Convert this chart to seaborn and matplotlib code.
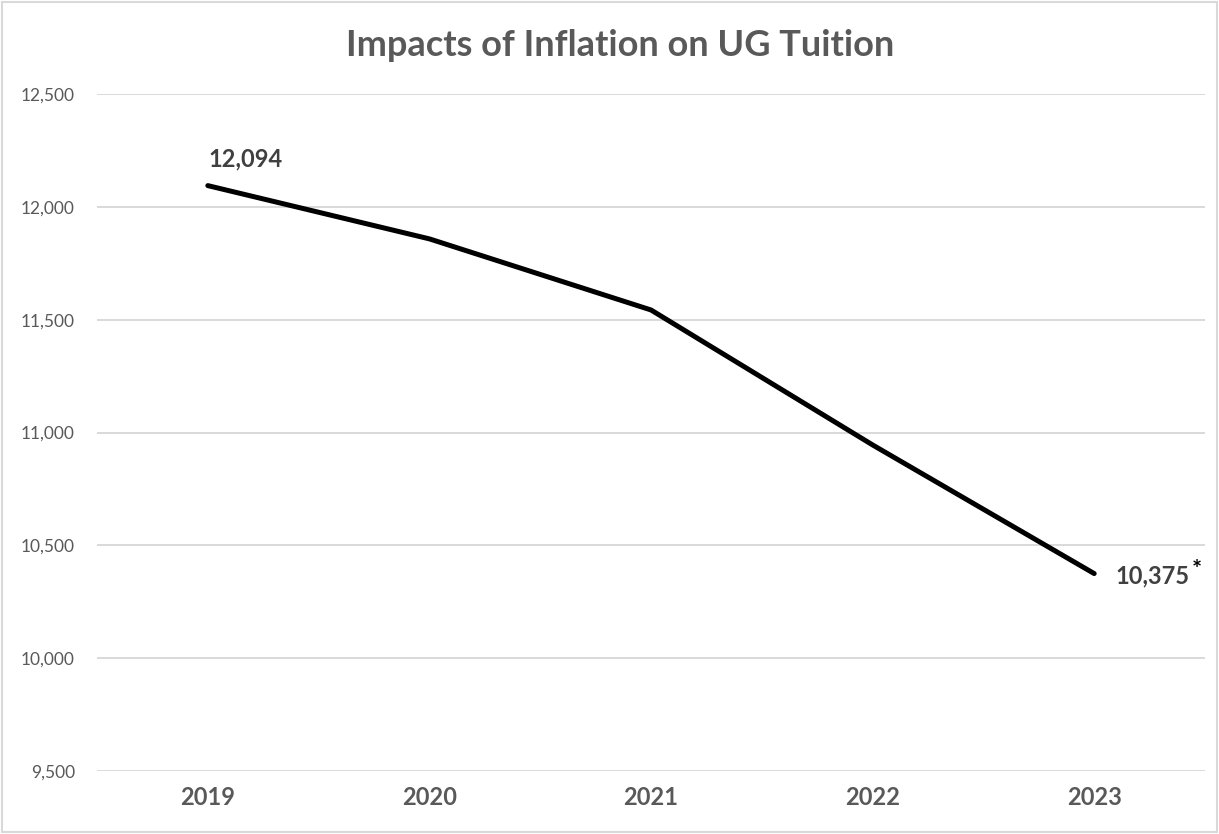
import matplotlib
matplotlib.use("Agg")
import matplotlib.pyplot as plt
import pandas as pd
import seaborn as sns
from matplotlib.patches import Rectangle

years = ["2019", "2020", "2021", "2022", "2023"]
tuition = [12094, 11858, 11543, 10945, 10375]
y_ticks = [9500, 10000, 10500, 11000, 11500, 12000, 12500]

df = pd.DataFrame({"year": years, "tuition": tuition})

sns.set_style("white")
plt.rcParams["font.family"] = ["Lato", "DejaVu Sans"]

fig = plt.figure(figsize=(12.19, 8.34), dpi=100)
ax = fig.add_axes([0.0796, 0.0755, 0.9089, 0.8118])

sns.lineplot(data=df, x="year", y="tuition", ax=ax, color="black", linewidth=3.6,
             sort=False, solid_capstyle="round")

ax.set_xlim(-0.5, len(years) - 0.5)
ax.set_ylim(y_ticks[0], y_ticks[-1])
ax.set_yticks(y_ticks)
ax.set_yticklabels([f"{v:,}" for v in y_ticks], color="#595959", fontsize=12.5)
ax.set_xticks(range(len(years)))
ax.set_xticklabels(years, color="#595959", fontsize=17, fontweight="bold")
ax.tick_params(axis="both", length=0)
ax.tick_params(axis="y", pad=16)
ax.tick_params(axis="x", pad=11)
ax.yaxis.grid(True, color="#d9d9d9", linewidth=1.4)
ax.set_axisbelow(True)
for s in ax.spines.values():
    s.set_visible(False)
ax.set_xlabel("")
ax.set_ylabel("")

# data labels on the first and last points
ax.annotate(f"{tuition[0]:,}", xy=(0, tuition[0]), xytext=(27, 19), textcoords="offset points",
            ha="center", va="center", fontsize=17, fontweight="bold", color="#404040")
ax.annotate(f"{tuition[-1]:,}", xy=(4, tuition[-1]), xytext=(42, -2), textcoords="offset points",
            ha="center", va="center", fontsize=17, fontweight="bold", color="#404040")
ax.annotate("*", xy=(4, tuition[-1]), xytext=(74, 2), textcoords="offset points",
            ha="center", va="center", fontsize=17, fontweight="bold", color="black")

fig.text(0.509, 0.945, "Impacts of Inflation on UG Tuition", ha="center", va="center",
         fontsize=26, fontweight="bold", color="#595959")

fig.patches.append(Rectangle((0.002, 0.002), 0.996, 0.996, transform=fig.transFigure,
                             fill=False, edgecolor="#d9d9d9", linewidth=1.5))

fig.savefig("out.png", dpi=100)
